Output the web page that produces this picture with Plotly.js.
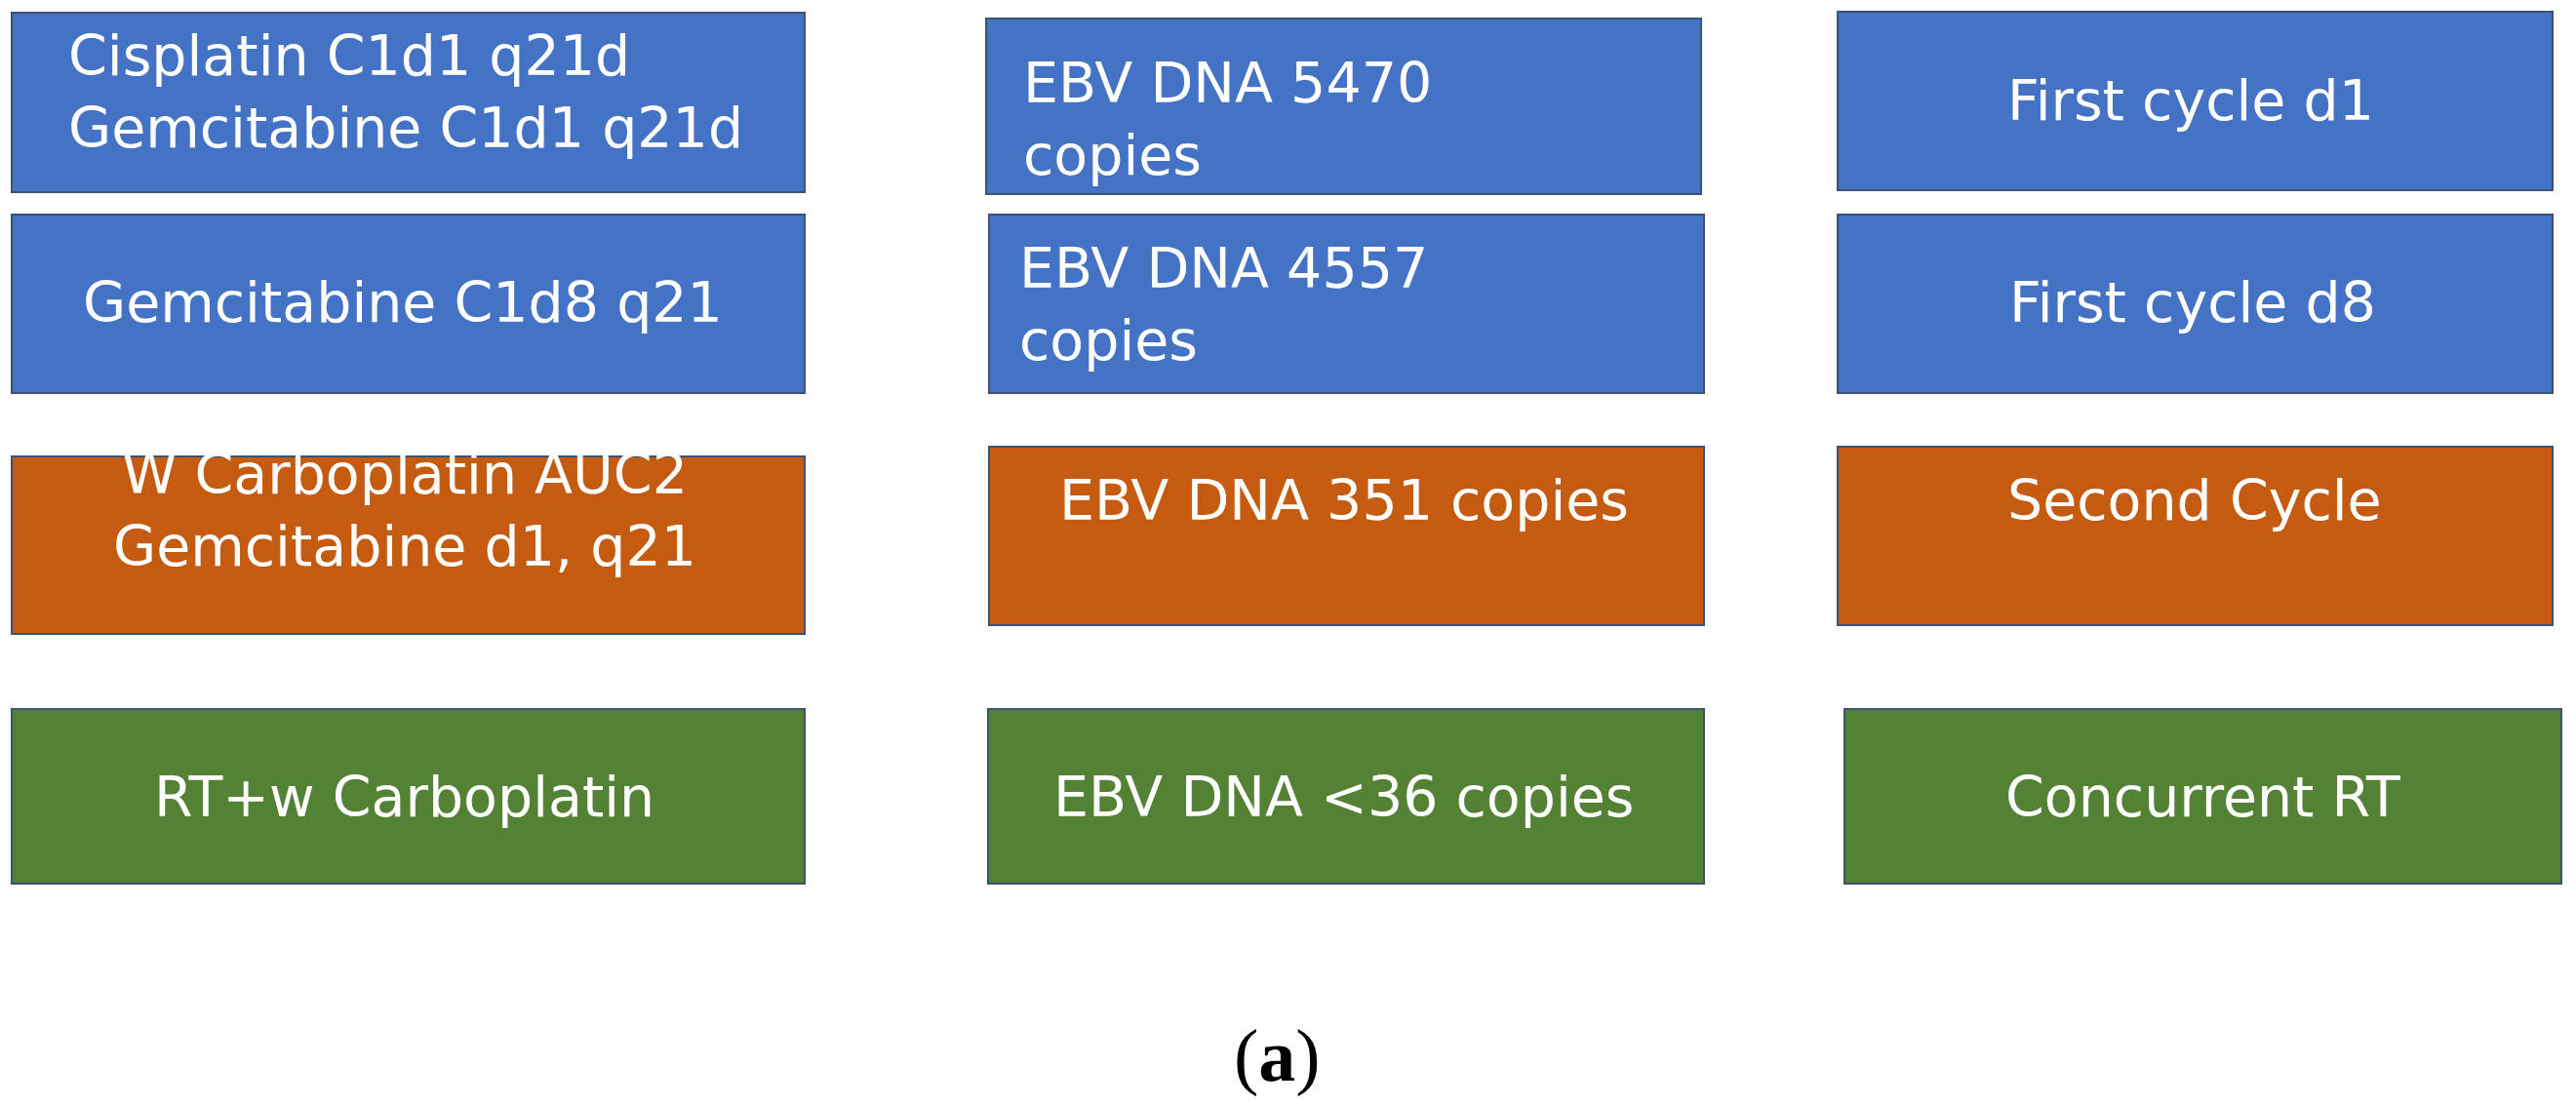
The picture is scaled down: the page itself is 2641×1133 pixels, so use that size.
<!DOCTYPE html>
<html>
<head>
<meta charset="utf-8">
<script src="https://cdn.plot.ly/plotly-3.0.1.min.js"></script>
<style>
  html, body { margin: 0; padding: 0; background: #ffffff; }
  #chart { width: 2641px; height: 1133px; }
</style>
</head>
<body>
<div id="chart"></div>
<script>
// ---------------- DATA ----------------
const phases      = ['First cycle d1', 'First cycle d8', 'Second Cycle', 'Concurrent RT'];
const regimens    = ['Cisplatin C1d1 q21d\nGemcitabine C1d1 q21d',
                     'Gemcitabine C1d8 q21',
                     'W Carboplatin AUC2\nGemcitabine d1, q21',
                     'RT+w Carboplatin'];
const ebvLabels   = ['EBV DNA 5470\ncopies', 'EBV DNA 4557\ncopies', 'EBV DNA 351 copies', 'EBV DNA <36 copies'];
const phaseGroup  = ['first', 'first', 'second', 'rt'];
const panelLabel  = 'a';

// ---------------- STYLE / GEOMETRY ----------------
const groupFill = { first: '#4472C4', second: '#C55A11', rt: '#548235' };
const borderColor = '#3d5270';
const textFont = { family: 'DejaVu Sans, Open Sans, sans-serif', size: 57, color: '#ffffff' };

// box edges [x0, x1, y0, y1] for column (regimen, EBV, phase) and row
const boxes = [
  [[12, 825, 13, 197], [12, 825, 220, 403], [12, 825, 468, 650], [12, 825, 727, 906]],
  [[1011, 1744, 19, 199], [1014, 1747, 220, 403], [1014, 1747, 458, 641], [1013, 1747, 727, 906]],
  [[1884, 2617, 12, 195], [1884, 2617, 220, 403], [1884, 2617, 458, 641], [1891, 2626, 727, 906]]
];
// text anchor [x, y, xanchor, align]
const textPos = [
  [[68, 94, 'left', 'left'], [413, 310, 'center', 'center'], [415, 523, 'center', 'center'], [414, 817, 'center', 'center']],
  [[1047, 122, 'left', 'left'], [1043, 312, 'left', 'left'], [1378, 513, 'center', 'center'], [1378, 817, 'center', 'center']],
  [[2246, 103, 'center', 'center'], [2248, 310, 'center', 'center'], [2250, 513, 'center', 'center'], [2258, 817, 'center', 'center']]
];

function esc(s) {
  return s.replace(/&/g, '&amp;').replace(/</g, '&lt;').replace(/>/g, '&gt;').replace(/\n/g, '<br>');
}

const columns = [regimens, ebvLabels, phases];
const shapes = [];
const annotations = [];

columns.forEach((col, c) => {
  col.forEach((label, r) => {
    const b = boxes[c][r];
    shapes.push({
      type: 'rect', xref: 'x', yref: 'y',
      x0: b[0], x1: b[1], y0: b[2], y1: b[3],
      fillcolor: groupFill[phaseGroup[r]],
      line: { color: borderColor, width: 2 },
      layer: 'below'
    });
    const t = textPos[c][r];
    annotations.push({
      xref: 'x', yref: 'y', x: t[0], y: t[1],
      xanchor: t[2], yanchor: 'middle', align: t[3],
      text: esc(label), showarrow: false,
      font: textFont
    });
  });
});

annotations.push({
  xref: 'x', yref: 'y', x: 1309, y: 1082,
  xanchor: 'center', yanchor: 'middle', showarrow: false,
  text: '(<b>' + panelLabel + '</b>)',
  font: { family: 'Liberation Serif, Times New Roman, serif', size: 76, color: '#000000', weight: 'normal' }
});

// invisible trace so the axes exist
const trace = { x: [0, 2641], y: [0, 1133], mode: 'markers', marker: { opacity: 0 }, hoverinfo: 'skip', showlegend: false, type: 'scatter' };

const layout = {
  width: 2641, height: 1133,
  margin: { l: 0, r: 0, t: 0, b: 0, pad: 0 },
  paper_bgcolor: '#ffffff', plot_bgcolor: '#ffffff',
  xaxis: { range: [0, 2641], visible: false, fixedrange: true },
  yaxis: { range: [1133, 0], visible: false, fixedrange: true },
  shapes: shapes,
  annotations: annotations,
  showlegend: false
};

Plotly.newPlot('chart', [trace], layout, { displayModeBar: false, staticPlot: true });
</script>
</body>
</html>
